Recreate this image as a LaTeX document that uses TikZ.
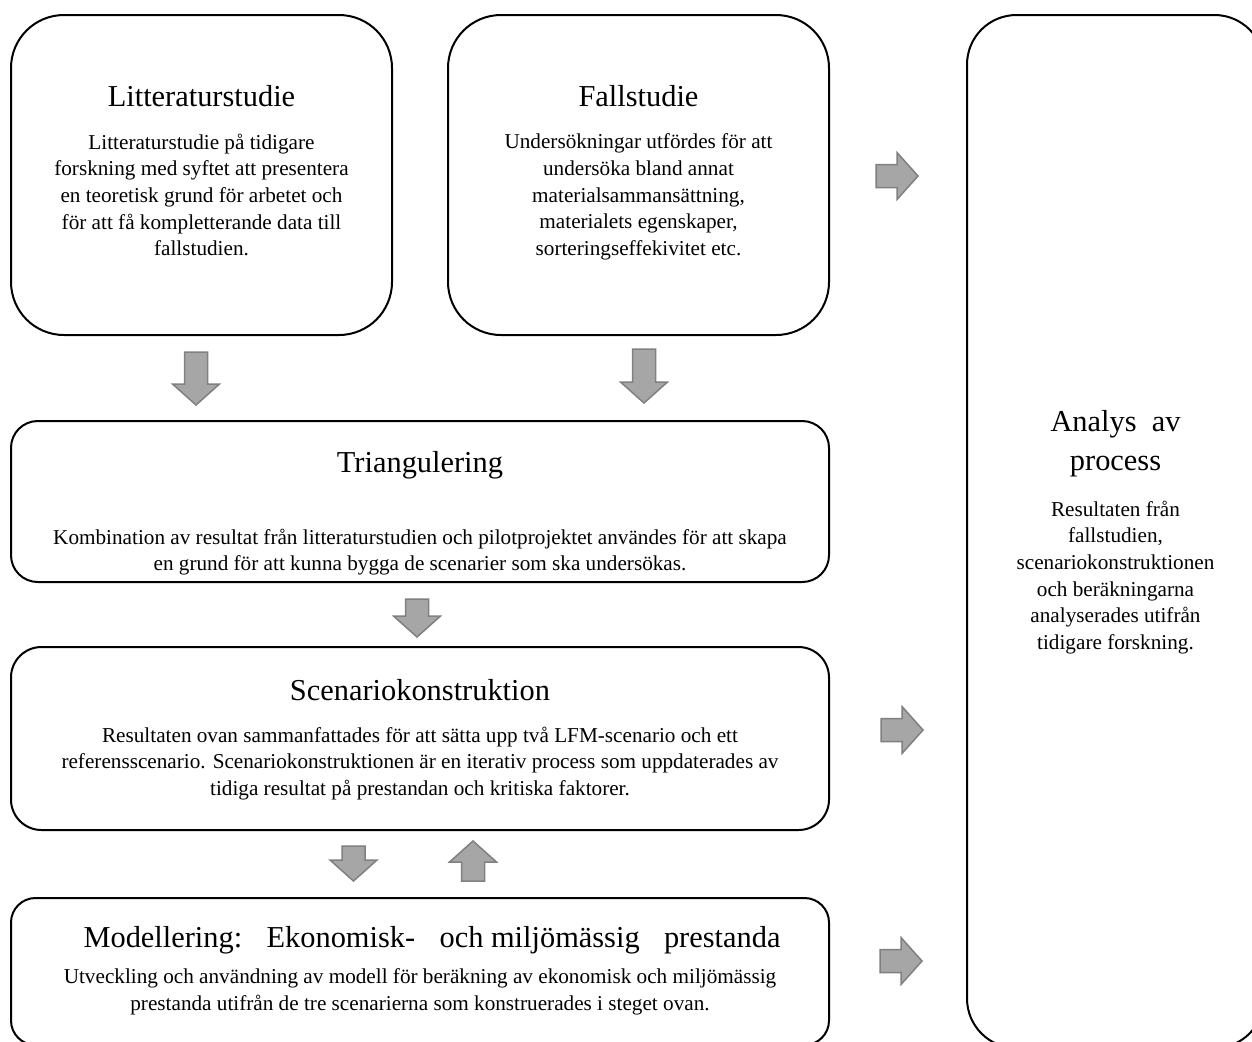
\documentclass[tikz,border=0pt]{standalone}
\usepackage{fontspec}
\setmainfont{Liberation Serif}
\usetikzlibrary{positioning}

% grå blockpil: position, rotation, längd
\newcommand{\blockpil}[3]{%
	\draw[pil, shift={#1}, rotate=#2]
	(-#3/2,-11.5) -- (#3/2-21,-11.5) -- (#3/2-21,-23.5) -- (#3/2,0)
	-- (#3/2-21,23.5) -- (#3/2-21,11.5) -- (-#3/2,11.5) -- cycle;}

\begin{document}
\begin{tikzpicture}[
	x=0.5pt, y=-0.5pt,
	ruta/.style={
		rectangle,
		draw=black,
		line width=1pt,
		inner sep=0pt,
		outer sep=0pt
	},
	rubrik/.style={
		anchor=base,
		inner sep=0pt,
		align=center,
		font=\fontsize{15.2}{19.5}\selectfont
	},
	brodtext/.style={
		anchor=north,
		inner sep=0pt,
		align=center,
		font=\fontsize{10.6}{13.3}\selectfont
	},
	pil/.style={
		draw=gray,
		fill=gray!70,
		line width=0.75pt
	}
	]
	\useasboundingbox (0,0) rectangle (1252,1041);
	\clip (0,0) rectangle (1252,1041);

	% rutorna
	\node[ruta, minimum width=190.5pt, minimum height=160pt, rounded corners=26.5pt]
	(lit) at (201.5,175) {};
	\node[ruta, minimum width=190.5pt, minimum height=160pt, rounded corners=26.5pt]
	(fall) at (638.5,175) {};
	\node[ruta, minimum width=409pt, minimum height=80.5pt, rounded corners=13.4pt]
	(tri) at (420,501.5) {};
	\node[ruta, minimum width=409pt, minimum height=91.5pt, rounded corners=15.25pt]
	(scen) at (420,738.5) {};
	\node[ruta, minimum width=409pt, minimum height=73.5pt, rounded corners=12.25pt]
	(mod) at (420,971.5) {};
	\node[ruta, minimum width=148.5pt, minimum height=516.5pt, rounded corners=24.75pt]
	(ana) at (1115.5,531.5) {};

	% texter
	\node[rubrik] (litT) at ([yshift=-45.5pt]lit.north) {Litteraturstudie};
	\node[brodtext] (litB) at ([yshift=-59.3pt]lit.north)
	{Litteraturstudie på tidigare\\
		forskning med syftet att presentera\\
		en teoretisk grund för arbetet och\\
		för att få kompletterande data till\\
		fallstudien.};

	\node[rubrik] (fallT) at ([yshift=-45.5pt]fall.north) {Fallstudie};
	\node[brodtext] (fallB) at ([yshift=-59.3pt]fall.north)
	{Undersökningar utfördes för att\\
		undersöka bland annat\\
		materialsammansättning,\\
		materialets egenskaper,\\
		sorteringseffekivitet etc.};

	\node[rubrik] (triT) at ([yshift=-25.5pt]tri.north) {Triangulering};
	\node[brodtext] (triB) at ([yshift=-53.8pt]tri.north)
	{Kombination av resultat från litteraturstudien och pilotprojektet användes för att skapa\\
		en grund för att kunna bygga de scenarier som ska undersökas.};

	\node[rubrik] (scenT) at ([yshift=-26.5pt]scen.north) {Scenariokonstruktion};
	\node[brodtext] (scenB) at ([yshift=-39.8pt]scen.north)
	{Resultaten ovan sammanfattades för att sätta upp två LFM-scenario och ett\\
		referensscenario. Scenariokonstruktionen är en iterativ process som uppdaterades av\\
		tidiga resultat på prestandan och kritiska faktorer.};

	\node[rubrik] (modT) at ([xshift=6pt, yshift=-24.5pt]mod.north)
	{Modellering:\hspace{0.8em}Ekonomisk-\hspace{0.8em}och miljömässig\hspace{0.8em}prestanda};
	\node[brodtext] (modB) at ([yshift=-35.3pt]mod.north)
	{Utveckling och användning av modell för beräkning av ekonomisk och miljömässig\\
		prestanda utifrån de tre scenarierna som konstruerades i steget ovan.};

	\node[rubrik, anchor=north] (anaT) at ([yshift=-197.6pt]ana.north)
	{Analys\ \ av\\process};
	\node[brodtext] (anaB) at ([yshift=-242.8pt]ana.north)
	{Resultaten från\\
		fallstudien,\\
		scenariokonstruktionen\\
		och beräkningarna\\
		analyserades utifrån\\
		tidigare forskning.};

	% pilar
	\blockpil{(196,378.5)}{-90}{53}
	\blockpil{(644,376)}{-90}{54}
	\blockpil{(417,618)}{-90}{38}
	\blockpil{(353.5,863.5)}{-90}{35}
	\blockpil{(473,861)}{90}{40}
	\blockpil{(897,176)}{0}{42}
	\blockpil{(902,730)}{0}{42}
	\blockpil{(901,961)}{0}{42}
\end{tikzpicture}
\end{document}
